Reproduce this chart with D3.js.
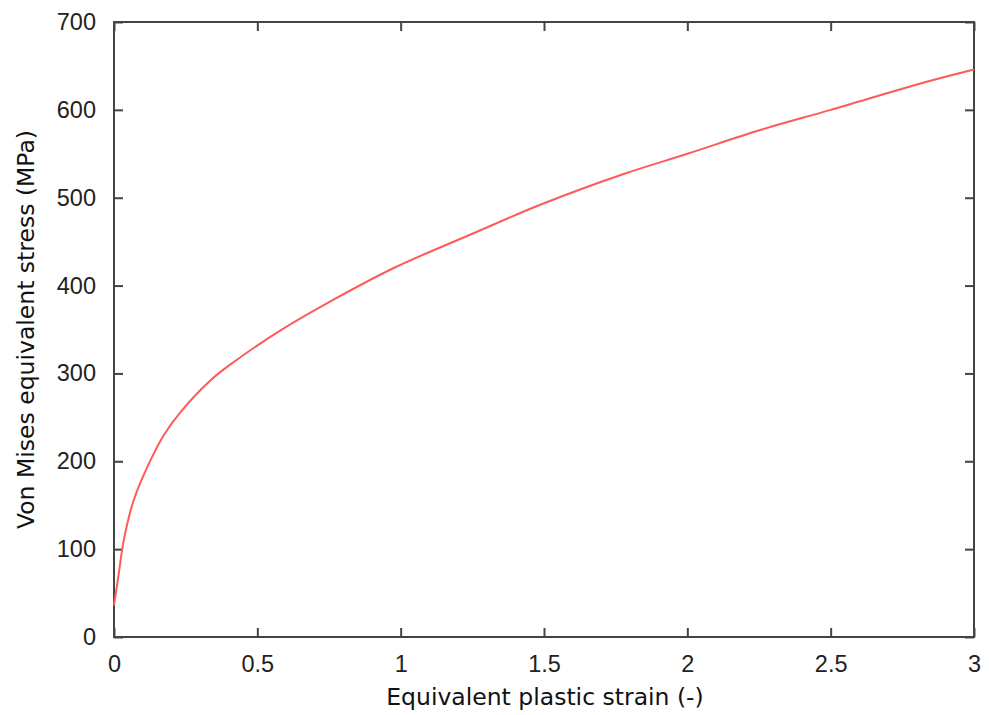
<!DOCTYPE html>
<html>
<head>
<meta charset="utf-8">
<script src="https://cdn.jsdelivr.net/npm/d3@7"></script>
<style>
  body { margin: 0; background: #fff; }
  .tick text { font-family: "Liberation Sans", Arial, sans-serif; font-size: 23.5px; fill: #222; }
  .axis-label { font-family: "DejaVu Sans", sans-serif; font-size: 23.5px; fill: #111; }
</style>
</head>
<body>
<div id="chart"></div>
<script>
///// Data

let strain = [0, 0.017, 0.034, 0.069, 0.127, 0.174, 0.232, 0.336, 0.418, 0.581, 0.766, 0.976, 1.25, 1.487, 1.778, 2.0, 2.254, 2.5, 2.835, 3.0];
let stress = [36, 73, 110, 156, 201, 230, 256, 292, 313, 349, 384, 420, 459, 492, 527, 550, 577, 600, 632, 646];

let xTicks = [0, 0.5, 1, 1.5, 2, 2.5, 3];
let yTicks = [0, 100, 200, 300, 400, 500, 600, 700];

let data = strain.map(function(d, i) { return { x: d, y: stress[i] }; });

///// Canvas

let W = 989, H = 715;
let margin = { top: 22, right: 15, bottom: 78, left: 114 },
    width = W - margin.left - margin.right,
    height = H - margin.top - margin.bottom;

let x = d3.scaleLinear().domain([0, 3]).range([0, width]);
let y = d3.scaleLinear().domain([0, 700]).range([height, 0]);

let svg = d3.select("#chart")
    .append("svg")
    .attr("width", W)
    .attr("height", H)
    .append("g")
    .attr("transform", "translate(" + margin.left + "," + margin.top + ")");

let tickLen = 9;

// bottom axis (ticks inward)
let xAxis = svg.append("g")
    .attr("transform", "translate(0," + height + ")")
    .call(d3.axisBottom(x).tickValues(xTicks).tickSize(-tickLen).tickPadding(18)
        .tickFormat(d3.format("")));

// left axis
let yAxis = svg.append("g")
    .call(d3.axisLeft(y).tickValues(yTicks).tickSize(-tickLen).tickPadding(18));

// mirrored ticks on top and right
let xTop = svg.append("g")
    .call(d3.axisTop(x).tickValues(xTicks).tickSize(-tickLen).tickFormat(""));
let yRight = svg.append("g")
    .attr("transform", "translate(" + width + ",0)")
    .call(d3.axisRight(y).tickValues(yTicks).tickSize(-tickLen).tickFormat(""));

[xAxis, yAxis, xTop, yRight].forEach(function(g) {
    g.select(".domain").remove();
    g.selectAll(".tick line").attr("stroke", "#444").attr("stroke-width", 2);
});

// frame
svg.append("rect")
    .attr("width", width)
    .attr("height", height)
    .attr("fill", "none")
    .attr("stroke", "#444")
    .attr("stroke-width", 2);

// the curve
let line = d3.line()
    .x(function(d) { return x(d.x); })
    .y(function(d) { return y(d.y); })
    .curve(d3.curveCatmullRom.alpha(0.5));

svg.append("path")
    .datum(data)
    .attr("fill", "none")
    .attr("stroke", "#ff5a5a")
    .attr("stroke-width", 2)
    .attr("d", line);

// axis labels
svg.append("text")
    .attr("class", "axis-label")
    .attr("x", width / 2 + 1)
    .attr("y", height + 68)
    .attr("text-anchor", "middle")
    .text("Equivalent plastic strain (-)");

svg.append("text")
    .attr("class", "axis-label")
    .attr("transform", "rotate(-90)")
    .attr("x", -height / 2)
    .attr("y", -margin.left + 34)
    .attr("text-anchor", "middle")
    .text("Von Mises equivalent stress (MPa)");
</script>
</body>
</html>
